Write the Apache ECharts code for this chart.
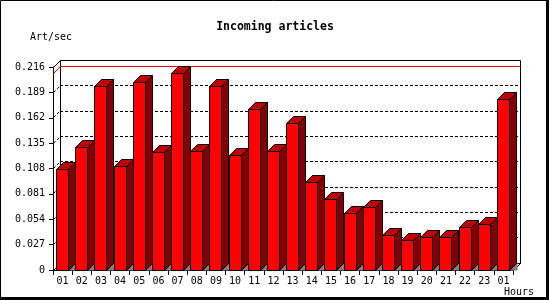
<!DOCTYPE html>
<html><head><meta charset="utf-8">
<script src="https://cdn.jsdelivr.net/npm/echarts@6/dist/echarts.min.js"></script>
<style>html,body{margin:0;padding:0;background:#fff}#c{width:550px;height:300px}</style>
</head><body><div id="c"></div>
<script>
// ---- data ----
const hours = ['01','02','03','04','05','06','07','08','09','10','11','12','13','14','15','16','17','18','19','20','21','22','23','01'];
const artPerSec = [0.1072,0.1306,0.1958,0.1103,0.1997,0.1256,0.2093,0.1269,0.1958,0.1224,0.1710,0.1263,0.1561,0.0933,0.0752,0.0603,0.0667,0.0369,0.0316,0.0348,0.0348,0.0454,0.0486,0.1816];
const yTicks = [0,0.027,0.054,0.081,0.108,0.135,0.162,0.189,0.216];
const titleText = 'Incoming articles';
const yName = 'Art/sec';
const xName = 'Hours';

// ---- styling ----
const FONT = '"DejaVu Sans Mono","Liberation Mono",monospace';
const DX = 7, DY = 7;
const yMin = yTicks[0], yMax = yTicks[yTicks.length-1], yStep = yTicks[1]-yTicks[0];
const maxVal = Math.max(...artPerSec);
const px = v => Math.floor(v) + 0.5;

function renderFrame(params, api){
  const cs = params.coordSys;
  const x0 = px(cs.x), x1 = px(cs.x + cs.width), y0 = px(cs.y), y1 = px(cs.y + cs.height);
  const st = {stroke:'#000', lineWidth:1};
  const L = (a,b,c,d) => ({type:'line', shape:{x1:a,y1:b,x2:c,y2:d}, style:st});
  return {type:'group', children:[
    L(x0,y0,x0+DX,y0-DY),
    L(x0+DX,y0-DY,x1+DX,y0-DY),
    L(x0+DX,y0-DY,x0+DX,y1-DY),
    L(x1+DX,y0-DY,x1+DX,y1-DY),
    L(x0+DX,y1-DY,x1+DX,y1-DY),
    L(x0,y1,x0+DX,y1-DY),
    L(x1,y1,x1+DX,y1-DY)
  ]};
}
function renderStub(params, api){
  const cs = params.coordSys;
  const y = px(api.coord([0, api.value(1)])[1]);
  const x0 = px(cs.x);
  return {type:'line', shape:{x1:x0,y1:y,x2:x0+DX,y2:y-DY}, style:{stroke:'#000', lineWidth:1, lineDash:[3,2]}};
}
function renderMax(params, api){
  const cs = params.coordSys;
  const y = px(api.coord([0, api.value(1)])[1]);
  const x0 = px(cs.x), x1 = px(cs.x + cs.width);
  return {type:'polyline', shape:{points:[[x0,y],[x0+DX,y-DY],[x1+DX,y-DY]]}, style:{stroke:'#ff0000', fill:null, lineWidth:1}};
}
function renderBar(params, api){
  const i = api.value(0), v = api.value(1);
  const top = api.coord([i, v]), base = api.coord([i, 0]);
  const cx = top[0];
  const xl = Math.round(cx - 6.5) + 0.5, xr = xl + 12, xs = xr + DX;
  const yt = Math.round(top[1]) + 0.5, yb = px(base[1]);
  const st = (f) => ({fill:f, stroke:'#000', lineWidth:1});
  return {type:'group', children:[
    {type:'polygon', shape:{points:[[xr,yb],[xs,yb-DY],[xs+1,yb-DY],[xs+1,yb]]}, style:{fill:'#808080'}},
    {type:'polygon', shape:{points:[[xl,yt],[xr,yt],[xr,yb],[xl,yb]]}, style:st('#ff0000')},
    {type:'polygon', shape:{points:[[xl,yt],[xl+DX,yt-DY],[xs,yt-DY],[xr,yt]]}, style:st('#c00000')},
    {type:'polygon', shape:{points:[[xr,yt],[xs,yt-DY],[xs,yb-DY],[xr,yb]]}, style:st('#800000')}
  ]};
}

const chart = echarts.init(document.getElementById('c'), null, {renderer:'canvas'});
chart.setOption({
  animation:false,
  backgroundColor:'#fff',
  title:{text:titleText, left:'center', top:21, padding:0,
    textStyle:{fontFamily:FONT, fontWeight:'bold', fontSize:11.5, color:'#000'}},
  grid:[
    {left:53, top:67, width:460, height:203},
    {left:60, top:60, width:460, height:203}
  ],
  xAxis:[
    {type:'category', gridIndex:0, data:hours,
      axisLine:{lineStyle:{color:'#000', width:1}},
      axisTick:{show:true, length:5, lineStyle:{color:'#000'}},
      axisLabel:{fontFamily:FONT, fontSize:10, color:'#000', margin:6, interval:0}},
    {type:'category', gridIndex:1, data:hours, show:false}
  ],
  yAxis:[
    {type:'value', gridIndex:0, min:yMin, max:yMax, interval:yStep,
      axisLine:{show:true, lineStyle:{color:'#000', width:1}},
      axisTick:{show:true, length:4, lineStyle:{color:'#000'}},
      axisLabel:{fontFamily:FONT, fontSize:10, color:'#000', margin:8,
        formatter: v => v === 0 ? '0' : v.toFixed(3)},
      splitLine:{show:false}},
    {type:'value', gridIndex:1, min:yMin, max:yMax, interval:yStep,
      axisLine:{show:false}, axisTick:{show:false}, axisLabel:{show:false},
      splitLine:{show:true, showMinLine:false, showMaxLine:false,
        lineStyle:{color:'#000', width:1, type:[3,2]}}}
  ],
  graphic:[
    {type:'rect', shape:{x:0.5,y:0.5,width:546,height:297}, style:{fill:null, stroke:'#000', lineWidth:1}},
    {type:'rect', shape:{x:546,y:0,width:3,height:300}, style:{fill:'#000'}},
    {type:'rect', shape:{x:0,y:297,width:549,height:3}, style:{fill:'#000'}},
    {type:'text', left:30, top:32, style:{text:yName, font:'10px '+FONT, fill:'#000'}},
    {type:'text', left:504, top:287, style:{text:xName, font:'10px '+FONT, fill:'#000'}}
  ],
  series:[
    {type:'custom', name:'frame', xAxisIndex:0, yAxisIndex:0, clip:false, z:1,
      data:[[0, yMin]], renderItem:renderFrame, silent:true},
    {type:'custom', name:'stubs', xAxisIndex:0, yAxisIndex:0, clip:false, z:1,
      data:yTicks.slice(1, -1).map(v => [0, v]), renderItem:renderStub, silent:true},
    {type:'custom', name:'max', xAxisIndex:0, yAxisIndex:0, clip:false, z:1,
      data:[[0, maxVal]], renderItem:renderMax, silent:true},
    {type:'custom', name:'Art/sec', xAxisIndex:0, yAxisIndex:0, clip:false, z:3,
      data:artPerSec.map((v, i) => [i, v]), renderItem:renderBar}
  ]
});
</script></body></html>
